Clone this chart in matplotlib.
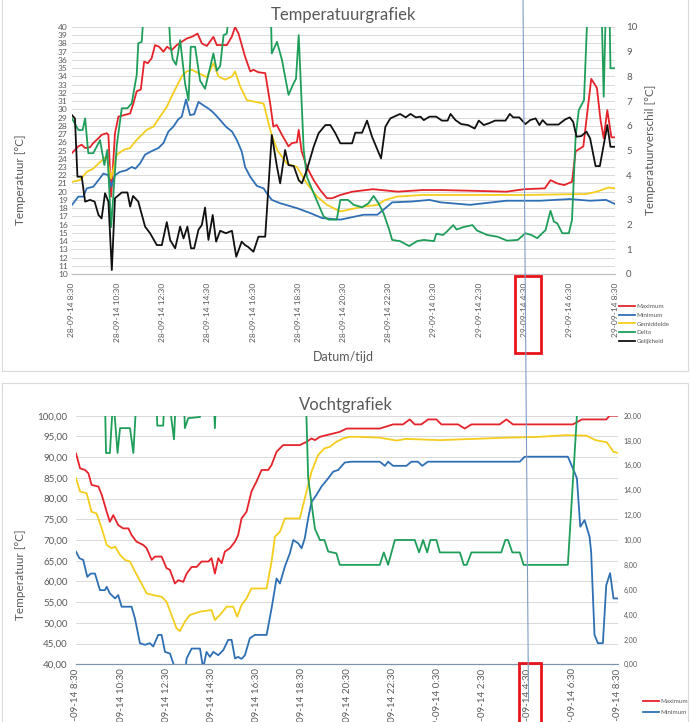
import matplotlib.pyplot as plt
from matplotlib.patches import Rectangle
from matplotlib.lines import Line2D

plt.rcParams['font.family'] = ['Lato', 'DejaVu Sans']

# ---- data: hours after 28-09-14 8:30 and values ----
tick_hours = [0, 2, 4, 6, 8, 10, 12, 14, 16, 18, 20, 22, 24]
tick_labels = ['28-09-14 8:30', '28-09-14 10:30', '28-09-14 12:30', '28-09-14 14:30',
               '28-09-14 16:30', '28-09-14 18:30', '28-09-14 20:30', '28-09-14 22:30',
               '29-09-14 0:30', '29-09-14 2:30', '29-09-14 4:30', '29-09-14 6:30',
               '29-09-14 8:30']
names = ['Maximum', 'Minimum', 'Gemiddelde', 'Delta', 'Gelijkheid']

# Temperatuurgrafiek
t_max_h = [0, 0.28, 0.43, 0.58, 0.8, 0.94, 1.17, 1.31, 1.53, 1.61, 1.73, 1.9, 2.05, 2.3, 2.57,
           2.71, 2.86, 3.04, 3.19, 3.35, 3.52, 3.67, 3.85, 4.04, 4.2, 4.41, 4.63, 4.85, 5.07,
           5.29, 5.55, 5.74, 5.96, 6.25, 6.4, 6.84, 7.06, 7.21, 7.36, 7.65, 7.88, 8.02, 8.24,
           8.54, 8.76, 8.9, 9.05, 9.28, 9.57, 9.72, 9.94, 10.02, 10.15, 10.38, 10.68, 10.97,
           11.27, 11.5, 11.86, 12.4, 13.3, 14.4, 15.5, 16.3, 17.8, 19.2, 20.0, 20.9, 21.15,
           21.45, 21.75, 22.1, 22.26, 22.6, 22.95, 23.2, 23.36, 23.5, 23.66, 23.84, 24]
t_max_v = [24.7, 25.5, 25.7, 25.3, 25.4, 25.9, 26.5, 26.9, 27.1, 26.9, 19.4, 27.1, 29.1, 29.3, 29.5,
           30.7, 32.2, 32.4, 35.8, 35.6, 36.2, 37.8, 37.6, 37.0, 37.6, 37.2, 37.8, 38.2, 38.6,
           38.8, 39.2, 38.0, 37.7, 38.8, 37.8, 37.8, 38.8, 40.0, 39.2, 36.4, 34.6, 34.8, 34.5,
           34.4, 30.7, 27.9, 28.1, 26.9, 25.5, 25.9, 26.0, 27.5, 24.9, 23.0, 21.4, 20.2,
           19.2, 19.2, 19.6, 20.0, 20.3, 20.0, 20.2, 20.2, 20.1, 20.0, 20.3, 20.4, 21.4,
           21.0, 20.8, 21.2, 24.9, 25.5, 33.7, 32.6, 28.7, 26.5, 29.9, 26.6, 26.6]

t_min_h = [0, 0.28, 0.5, 0.65, 0.94, 1.17, 1.39, 1.6, 1.73, 1.9, 2.12, 2.4, 2.64, 2.8, 3.0, 3.23,
           3.5, 3.82, 4.04, 4.26, 4.48, 4.7, 4.85, 5.04, 5.22, 5.4, 5.59, 5.8, 6.03, 6.25, 6.55,
           6.8, 7.07, 7.28, 7.5, 7.65, 7.88, 8.17, 8.47, 8.61, 8.83, 9.2, 9.94, 10.53, 11.05,
           11.86, 12.9, 13.5, 13.85, 14.15, 15.0, 15.8, 16.3, 17.6, 19.2, 20.7, 22.0, 22.9,
           23.6, 24]
t_min_v = [18.4, 19.4, 19.4, 20.4, 20.6, 21.4, 22.2, 22.0, 20.6, 22.0, 22.4, 22.6, 23.0, 22.8, 23.4, 24.5,
           24.9, 25.3, 25.9, 27.3, 27.9, 28.8, 29.1, 31.2, 29.3, 29.4, 30.9, 30.5, 30.1, 29.6, 28.7,
           27.9, 27.3, 26.3, 24.9, 23.0, 21.8, 20.7, 20.4, 19.8, 19.0, 18.6, 18.0, 17.4, 16.8,
           16.6, 17.2, 17.2, 18.0, 18.7, 18.8, 19.0, 18.7, 18.4, 18.9, 18.9, 19.1, 18.9,
           19.0, 18.5]

t_gem_h = [0, 0.35, 0.65, 0.94, 1.24, 1.53, 1.73, 1.98, 2.3, 2.57, 2.86, 3.08, 3.3, 3.6, 3.89,
           4.19, 4.41, 4.63, 4.85, 5.07, 5.3, 5.59, 5.96, 6.25, 6.47, 6.77, 7.07, 7.21, 7.43,
           7.73, 7.95, 8.47, 8.76, 9.06, 9.5, 9.94, 10.38, 10.83, 11.27, 11.7, 11.86, 12.9,
           13.5, 13.85, 14.37, 15.5, 20.0, 22.2, 22.7, 23.2, 23.7, 24]
t_gem_v = [21.2, 21.4, 22.4, 22.8, 23.6, 24.3, 21.6, 24.5, 25.1, 25.3, 26.3, 26.9, 27.5, 27.9, 29.1,
           30.3, 31.6, 32.8, 34.0, 34.6, 34.8, 34.4, 33.9, 35.6, 34.0, 33.6, 34.0, 34.6, 32.8,
           31.1, 31.0, 30.7, 27.5, 25.1, 23.4, 23.0, 21.0, 19.4, 18.4, 17.8, 17.6, 18.2,
           18.4, 19.0, 19.4, 19.6, 19.6, 19.7, 19.7, 20.0, 20.5, 20.4]

t_delta_h = [0, 0.28, 0.47, 0.58, 0.72, 0.94, 1.24, 1.43, 1.56, 1.73, 1.98, 2.2, 2.45, 2.64, 2.86,
             2.93, 3.08, 3.2, 4.25, 4.34, 4.45, 4.6, 4.78, 5.0, 5.15, 5.25, 5.44, 5.66, 5.88,
             6.25, 6.4, 6.55, 6.7, 6.84, 7.0, 8.78, 8.83, 9.06, 9.28, 9.57, 9.8, 9.9, 10.02,
             10.24, 10.38, 10.68, 10.9, 11.12, 11.34, 11.7, 11.86, 12.2, 12.45, 12.82, 13.1,
             13.33, 13.55, 13.77, 14.0, 14.15, 14.5, 14.9, 15.25, 15.55, 16.0, 16.1, 16.4,
             16.55, 16.85, 17.0, 17.3, 17.7, 17.9, 18.35, 18.8, 19.23, 19.7, 20.04, 20.3,
             20.56, 20.93, 21.15, 21.3, 21.45, 21.67, 21.96, 22.1, 22.26, 22.4, 22.63, 22.8,
             23.4, 23.5, 23.6, 23.75, 23.8, 24]
t_delta_v = [6.3, 5.83, 5.83, 6.3, 4.89, 4.89, 5.42, 4.41, 5.02, 1.9, 5.22, 6.71, 6.71, 6.91, 8.06,
             9.34, 9.4, 11, 11, 9.33, 8.7, 8.47, 9.47, 7.7, 7.03, 9.2, 9.2, 7.83, 7.5,
             8.93, 8.23, 8.43, 9.67, 9.73, 11, 11, 8.93, 9.4, 8.67, 7.25, 7.73, 7.9, 9.67,
             5.04, 3.94, 3.27, 2.8, 2.33, 2.2, 2.2, 3.0, 3.0, 2.8, 2.7, 2.86,
             3.16, 2.86, 2.46, 1.85, 1.38, 1.33, 1.13, 1.33, 1.38, 1.33, 1.63, 1.58,
             1.7, 1.98, 1.8, 1.9, 1.98, 1.76, 1.58, 1.51, 1.35, 1.38, 1.65, 1.58,
             1.45, 1.78, 2.56, 2.12, 2.05, 1.65, 1.65, 2.19, 5.56, 6.64, 7.04, 11,
             11, 7.18, 11, 11, 8.33, 8.33]

t_gel_h = [0, 0.13, 0.24, 0.43, 0.58, 0.8, 1.0, 1.17, 1.31, 1.46, 1.61, 1.76, 1.9, 2.2, 2.45,
           2.57, 2.7, 2.93, 3.23, 3.45, 3.75, 3.97, 4.19, 4.34, 4.56, 4.78, 4.93, 5.1, 5.26,
           5.4, 5.59, 5.74, 5.88, 6.03, 6.22, 6.37, 6.55, 6.8, 7.07, 7.26, 7.5, 7.65, 7.78,
           8.02, 8.24, 8.54, 8.83, 9.06, 9.2, 9.42, 9.57, 9.8, 10.02, 10.16, 10.38, 10.68,
           10.9, 11.2, 11.42, 11.64, 11.86, 12.38, 12.52, 12.82, 13.04, 13.26, 13.66, 13.85,
           14.07, 14.5, 14.75, 14.96, 15.2, 15.4, 15.55, 15.8, 16.1, 16.35, 16.6, 16.73,
           16.95, 17.2, 17.5, 17.8, 17.98, 18.2, 18.42, 18.7, 19.16, 19.35, 19.5, 19.77,
           20.04, 20.25, 20.49, 20.66, 20.8, 20.99, 21.5, 21.8, 22.0, 22.15, 22.3, 22.5,
           22.74, 22.9, 23.14, 23.33, 23.5, 23.66, 23.8, 24]
t_gel_v = [6.43, 6.3, 3.94, 3.94, 2.93, 3.0, 2.93, 2.39, 2.25, 3.27, 2.93, 0.16, 3.07, 3.3, 3.3,
           2.73, 3.16, 2.93, 1.92, 1.65, 1.17, 1.17, 2.1, 1.37, 1.04, 1.92, 1.44, 1.92, 1.04,
           1.04, 1.79, 1.99, 2.69, 1.38, 2.39, 1.31, 1.75, 1.65, 1.75, 0.7, 1.31, 1.17, 1.1,
           0.9, 1.51, 1.51, 5.63, 4.34, 3.67, 5.02, 4.41, 4.37, 3.8, 3.67, 4.21, 5.15,
           5.7, 6.03, 6.03, 5.7, 5.29, 5.29, 5.72, 5.72, 6.21, 5.56, 4.68, 5.96,
           6.3, 6.48, 6.34, 6.48, 6.34, 6.37, 6.23, 6.37, 6.37, 6.21, 6.21, 6.48,
           6.23, 6.07, 6.03, 5.89, 6.21, 6.03, 6.1, 6.21, 6.21, 6.48, 6.34, 6.34,
           6.07, 6.23, 6.3, 6.03, 6.23, 6.05, 6.05, 6.26, 6.34, 6.16, 5.56, 5.58,
           5.76, 5.49, 4.37, 4.37, 5.22, 6.03, 5.15, 5.15]

# Vochtgrafiek
v_max_h = [0, 0.18, 0.4, 0.55, 0.69, 0.99, 1.14, 1.36, 1.5, 1.65, 1.87, 2.09, 2.32, 2.46, 2.68,
           2.98, 3.13, 3.35, 3.5, 3.79, 4.01, 4.16, 4.38, 4.53, 4.75, 4.9, 5.12, 5.34, 5.56,
           5.86, 6.0, 6.15, 6.3, 6.45, 6.59, 6.81, 7.04, 7.18, 7.33, 7.55, 7.77, 7.99, 8.22,
           8.51, 8.66, 8.88, 9.17, 9.91, 10.21, 10.43, 10.58, 10.8, 11.09, 11.39, 11.68,
           11.98, 13.45, 14.04, 14.48, 14.78, 15.0, 15.29, 15.59, 15.96, 16.18, 16.92,
           17.21, 17.51, 18.76, 19.06, 19.35, 22.0, 22.4, 23.48, 23.63, 24]
v_max_v = [90.9, 87.3, 86.9, 86.1, 83.3, 82.9, 80.9, 76.8, 74.4, 76.0, 73.6, 72.8, 72.8, 71.2, 69.6,
           68.8, 68.0, 65.2, 66.0, 66.0, 63.2, 62.8, 59.5, 60.3, 59.9, 61.9, 63.5, 63.5, 64.8,
           64.8, 65.6, 61.9, 65.6, 64.4, 67.2, 68.0, 69.6, 71.2, 75.2, 76.8, 81.7, 84.1, 86.9,
           86.9, 88.1, 91.3, 92.9, 92.9, 93.7, 94.5, 94.1, 94.9, 95.3, 95.7, 96.1,
           96.9, 96.9, 97.9, 97.9, 99.1, 97.9, 97.9, 99.1, 99.1, 97.9, 97.9,
           96.9, 97.9, 97.9, 99.1, 97.9, 97.9, 99.1, 99.1, 100.0, 100.0]

v_min_h = [0, 0.15, 0.32, 0.5, 0.65, 0.84, 1.06, 1.28, 1.36, 1.5, 1.73, 1.87, 2.02, 2.46, 2.61,
           2.83, 3.05, 3.27, 3.42, 3.64, 3.79, 3.94, 4.16, 4.31, 4.38, 4.82, 4.9, 5.12, 5.49,
           5.63, 5.78, 5.93, 6.08, 6.3, 6.52, 6.74, 6.89, 7.04, 7.18, 7.33, 7.48, 7.7, 7.92,
           8.44, 8.66, 8.88, 9.03, 9.25, 9.47, 9.62, 9.84, 9.99, 10.13, 10.28, 10.43, 10.65,
           10.87, 11.17, 11.39, 11.61, 11.9, 12.2, 13.45, 13.68, 13.82, 14.04, 14.63, 14.85,
           15.14, 15.33, 15.58, 19.65, 19.87, 21.78, 22.0, 22.18, 22.33, 22.52, 22.74, 22.81,
           22.96, 23.11, 23.33, 23.48, 23.65, 23.8, 24]
v_min_v = [67.2, 65.6, 65.2, 61.1, 61.9, 61.9, 57.9, 57.9, 58.7, 57.1, 55.9, 56.7, 53.9, 53.9, 51.1,
           45.1, 44.7, 45.1, 44.3, 47.1, 47.1, 43.0, 42.6, 40.2, 38.0, 38.0, 41.4, 43.8, 43.8,
           39.0, 43.0, 41.8, 43.0, 42.2, 43.4, 45.9, 45.9, 41.4, 41.8, 41.3, 42.2, 46.3, 47.1,
           47.1, 53.5, 60.7, 59.5, 63.6, 66.8, 70.0, 69.2, 68.0, 70.4, 75.2, 79.2, 80.9,
           82.9, 84.9, 86.5, 86.9, 88.7, 88.9, 88.9, 87.9, 88.9, 87.9, 87.9, 88.9,
           88.9, 87.9, 88.9, 88.9, 90.1, 90.1, 87.3, 84.9, 73.2, 74.8, 70.8, 67.2,
           47.1, 45.1, 45.1, 59.1, 62.0, 55.9, 55.9]

v_gem_h = [0, 0.18, 0.47, 0.69, 0.91, 1.14, 1.36, 1.58, 1.73, 1.95, 2.17, 2.39, 2.61, 2.9, 3.13,
           3.42, 3.79, 4.01, 4.23, 4.45, 4.6, 4.82, 5.04, 5.49, 6.0, 6.15, 6.37, 6.67, 6.96,
           7.14, 7.33, 7.55, 7.77, 8.44, 8.66, 8.81, 9.03, 9.25, 9.91, 10.13, 10.43, 10.72,
           11.0, 11.24, 11.53, 11.83, 12.1, 12.57, 13.45, 14.2, 14.6, 16.1, 17.6, 19.05, 20.5,
           21.7, 22.6, 23.0, 23.5, 23.8, 24]
v_gem_v = [84.9, 81.7, 81.3, 76.8, 76.4, 72.8, 68.8, 68.0, 68.4, 66.4, 65.2, 64.8, 62.4, 59.5, 57.1,
           56.7, 56.3, 55.1, 51.9, 48.7, 48.0, 50.3, 51.9, 52.7, 53.1, 50.7, 51.9, 53.9, 53.9,
           51.5, 54.3, 55.9, 58.3, 58.3, 64.8, 70.8, 72.0, 75.2, 75.2, 80.0, 86.5, 90.5,
           92.1, 92.5, 93.7, 94.5, 94.9, 94.9, 94.7, 94.0, 94.4, 94.1, 94.4, 94.7, 94.9,
           95.3, 95.2, 94.1, 93.6, 91.3, 91.0]

v_delta_h = [0, 1.28, 1.33, 1.5, 1.65, 1.84, 1.95, 2.39, 2.54, 2.68, 3.55, 3.6, 3.86, 3.92, 4.1,
             4.34, 4.42, 4.78, 4.82, 4.97, 5.49, 5.55, 6.1, 6.15, 6.2, 10.18, 10.28, 10.58,
             10.8, 11.0, 11.17, 11.53, 11.68, 13.45, 13.63, 13.82, 14.12, 15.0, 15.19, 15.37,
             15.55, 15.69, 15.96, 16.11, 17.0, 17.17, 17.3, 17.51, 18.83, 19.01, 19.13, 19.32,
             19.65, 19.82, 21.78, 22.18, 22.22, 24]
v_delta_v = [21.5, 21.5, 17.0, 17.0, 21.5, 17.0, 19.0, 19.0, 17.0, 21.5, 21.5, 19.2, 19.2, 21.5, 21.5,
             18.1, 21.5, 21.5, 19.0, 19.8, 19.9, 21.5, 21.5, 19.0, 21.5, 21.5, 15.0, 10.9,
             10.0, 10.0, 9.07, 8.93, 8.0, 8.0, 9.0, 8.0, 10.0, 10.0, 9.0, 10.0,
             9.0, 10.0, 10.0, 9.0, 9.0, 8.0, 8.0, 9.0, 9.0, 10.0, 10.0, 9.0,
             9.0, 8.0, 8.0, 20.0, 21.5, 21.5]

# ---- layout helpers (pixel positions of the screenshot) ----
W, H = 690, 722
GREY = '#595959'
colors = ['#e5232b', '#2f6fb4', '#f5cd1c', '#1f9e5a', '#111111']


def fx(x):
    return x / W


def fy(y):
    return 1 - y / H


fig = plt.figure(figsize=(W / 100, H / 100), dpi=100)

# panel frames
for (x0, y0, x1, y1) in [(2, -2, 688, 371), (2, 383, 688, 730)]:
    fig.add_artist(Rectangle((fx(x0), fy(y1)), fx(x1) - fx(x0), fy(y0) - fy(y1),
                             transform=fig.transFigure, fill=False,
                             edgecolor='#d9d9d9', lw=0.8))

# ---------------- Temperatuurgrafiek ----------------
ax = fig.add_axes([fx(72), fy(274), fx(615) - fx(72), fy(27) - fy(274)])
ax2 = ax.twinx()
lines = []
for h, v, c in [(t_max_h, t_max_v, colors[0]), (t_min_h, t_min_v, colors[1]),
                (t_gem_h, t_gem_v, colors[2])]:
    lines += ax.plot(h, v, color=c, lw=1.3)
for h, v, c in [(t_delta_h, t_delta_v, colors[3]), (t_gel_h, t_gel_v, colors[4])]:
    lines += ax2.plot(h, v, color=c, lw=1.3)

ax.set_xlim(0, 24)
ax.set_ylim(10, 40)
ax2.set_ylim(0, 10)
ax.set_yticks(range(10, 41))
ax2.set_yticks(range(0, 11))
ax.grid(axis='y', color='#d9d9d9', lw=0.7)
ax.set_axisbelow(True)
ax.set_xticks(tick_hours)
ax.set_xticklabels(tick_labels, rotation=90, fontsize=6, color=GREY)
ax.tick_params(axis='x', length=0, pad=6)
ax.tick_params(axis='y', length=0, pad=3, labelsize=6, labelcolor=GREY)
ax2.tick_params(axis='y', length=0, pad=8, labelsize=7, labelcolor=GREY)
for a in (ax, ax2):
    for s in ('top', 'left', 'right'):
        a.spines[s].set_visible(False)
    a.spines['bottom'].set_color('#bfbfbf')

fig.text(fx(343), fy(15), 'Temperatuurgrafiek', ha='center', va='center',
         fontsize=12, color=GREY)
fig.text(fx(21), fy(180), 'Temperatuur [°C]', rotation=90, ha='center', va='center',
         fontsize=8.5, color=GREY)
fig.text(fx(650), fy(150), 'Temperatuurverschil [°C]', rotation=90, ha='center',
         va='center', fontsize=8.5, color=GREY)
fig.text(fx(343), fy(357), 'Datum/tijd', ha='center', va='center', fontsize=9, color=GREY)
fig.legend(lines, names, loc='upper left', bbox_to_anchor=(fx(613), fy(298)),
           frameon=False, fontsize=4.5, handlelength=2.6, labelspacing=0.55,
           handletextpad=0.3, labelcolor=GREY)

# ---------------- Vochtgrafiek ----------------
bx = fig.add_axes([fx(76), fy(664.3), fx(618) - fx(76), fy(415.7) - fy(664.3)])
bx2 = bx.twinx()
blines = []
for h, v, c in [(v_max_h, v_max_v, colors[0]), (v_min_h, v_min_v, colors[1]),
                (v_gem_h, v_gem_v, colors[2])]:
    blines += bx.plot(h, v, color=c, lw=1.3)
blines += bx2.plot(v_delta_h, v_delta_v, color=colors[3], lw=1.3)

bx.set_xlim(0, 24)
bx.set_ylim(40, 100)
bx2.set_ylim(0, 20)
yt = list(range(40, 101, 5))
bx.set_yticks(yt)
bx.set_yticklabels(['%d,00' % t for t in yt])
yt2 = list(range(0, 21, 2))
bx2.set_yticks(yt2)
bx2.set_yticklabels(['%d,00' % t for t in yt2])
bx.grid(axis='y', color='#d9d9d9', lw=0.7)
bx.set_axisbelow(True)
bx.set_xticks(tick_hours)
# the screenshot is cropped here, so these labels run off the bottom edge
bx.set_xticklabels(tick_labels, rotation=90, fontsize=7, color=GREY)
bx.tick_params(axis='x', length=0, pad=3)
bx.tick_params(axis='y', length=0, pad=6, labelsize=7, labelcolor=GREY)
bx2.tick_params(axis='y', length=0, pad=4, labelsize=5, labelcolor=GREY)
for a in (bx, bx2):
    for s in ('top', 'left', 'right'):
        a.spines[s].set_visible(False)
    a.spines['bottom'].set_color('#7f93ad')

fig.text(fx(346), fy(405), 'Vochtgrafiek', ha='center', va='center', fontsize=12, color=GREY)
fig.text(fx(21), fy(575), 'Temperatuur [°C]', rotation=90, ha='center', va='center',
         fontsize=8.5, color=GREY)
fig.legend(blines[:2], names[:2], loc='upper left', bbox_to_anchor=(fx(637), fy(693)),
           frameon=False, fontsize=4.5, handlelength=2.6, labelspacing=0.9,
           handletextpad=0.3, labelcolor=GREY)

# hand-drawn marker line and boxes at 29-09-14 4:30
fig.add_artist(Line2D([fx(523), fx(528.5)], [fy(0), fy(700)], transform=fig.transFigure,
                      color='#7f9cc4', lw=0.8))
for (x0, y0, x1, y1) in [(515, 276, 541, 353), (519, 663, 541, 726)]:
    fig.add_artist(Rectangle((fx(x0), fy(y1)), fx(x1) - fx(x0), fy(y0) - fy(y1),
                             transform=fig.transFigure, fill=False,
                             edgecolor='#e8141b', lw=2))

fig.savefig('out.png', dpi=100)
